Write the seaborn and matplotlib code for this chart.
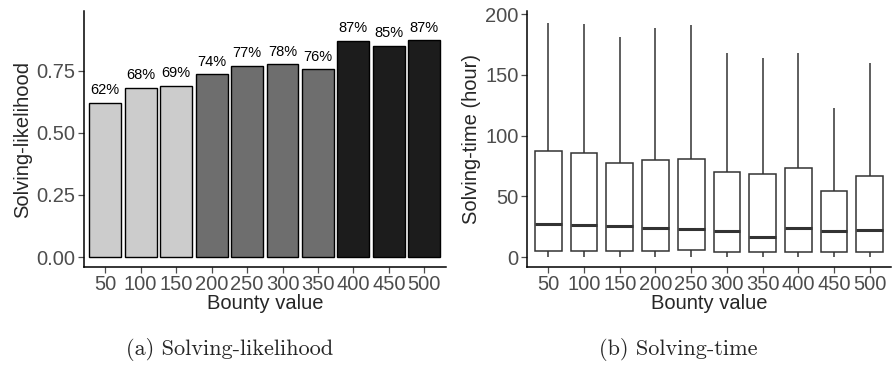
import matplotlib
matplotlib.use("Agg")
import matplotlib.pyplot as plt
import numpy as np
import pandas as pd
import seaborn as sns

# bounty categories
bounty = ["50", "100", "150", "200", "250", "300", "350", "400", "450", "500"]
tier = ["low"] * 3 + ["mid"] * 4 + ["high"] * 3
likelihood = [0.62, 0.68, 0.69, 0.735, 0.77, 0.775, 0.755, 0.87, 0.85, 0.872]
likelihood_labels = ["62%", "68%", "69%", "74%", "77%", "78%", "76%", "87%", "85%", "87%"]

# solving-time five-number summaries (hours)
time_min = [0.3, 0.3, 0.3, 0.3, 0.3, 0.3, 0.3, 0.3, 0.3, 0.3]
time_q1 = [5.2, 5.0, 5.0, 5.0, 5.5, 4.5, 4.0, 4.0, 4.0, 4.5]
time_med = [27.0, 26.0, 25.7, 24.1, 23.3, 21.6, 16.5, 24.0, 21.4, 22.2]
time_q3 = [87.5, 86.0, 77.4, 79.6, 80.7, 70.2, 68.0, 73.0, 54.3, 66.4]
time_max = [193.0, 192.0, 181.0, 188.7, 190.7, 168.0, 163.8, 168.0, 122.3, 159.7]

tier_colors = {"low": "#CCCCCC", "mid": "#6E6E6E", "high": "#1C1C1C"}

sns.set_theme(style="ticks")
plt.rcParams["font.family"] = ["Liberation Sans", "DejaVu Sans"]

df_like = pd.DataFrame({"bounty": bounty, "tier": tier, "likelihood": likelihood})

rows = []
for b, lo, q1, md, q3, hi in zip(bounty, time_min, time_q1, time_med, time_q3, time_max):
    for v in (lo, q1, md, q3, hi):
        rows.append({"bounty": b, "hours": v})
df_time = pd.DataFrame(rows)

fig = plt.figure(figsize=(8.93, 3.67), dpi=100)
ax1 = fig.add_axes([0.094, 0.2725, 0.405, 0.6975])
ax2 = fig.add_axes([0.590, 0.2725, 0.408, 0.6975])

tick_gray = "#4D4D4D"

# (a) likelihood bars
sns.barplot(data=df_like, x="bounty", y="likelihood", hue="tier", order=bounty,
            palette=tier_colors, dodge=False, width=0.9, edgecolor="black",
            linewidth=1.0, legend=False, ax=ax1)
bars = [p for p in ax1.patches]
bars.sort(key=lambda p: p.get_x())
for p, lab in zip(bars, likelihood_labels):
    ax1.annotate(lab, (p.get_x() + p.get_width() / 2, p.get_height()),
                 xytext=(0, 4), textcoords="offset points",
                 ha="center", va="bottom", fontsize=10.5, color="black")
ax1.set_xlim(-0.6, 9.6)
ax1.set_ylim(-0.04, 0.99)
ax1.set_yticks([0.0, 0.25, 0.5, 0.75])
ax1.set_yticklabels(["0.00", "0.25", "0.50", "0.75"])
ax1.set_ylabel("Solving-likelihood", fontsize=14.5, labelpad=3)

# (b) time boxes
sns.boxplot(data=df_time, x="bounty", y="hours", order=bounty, whis=(0, 100),
            color="white", linecolor="#333333", linewidth=1.1, width=0.75,
            fliersize=0, capprops={"linewidth": 0},
            medianprops={"linewidth": 2.2, "color": "#333333"}, ax=ax2)
ax2.set_xlim(-0.6, 9.6)
ax2.set_ylim(-8.2, 202.5)
ax2.set_yticks([0, 50, 100, 150, 200])
ax2.set_ylabel("Solving-time (hour)", fontsize=14.5, labelpad=3)

for ax in (ax1, ax2):
    ax.set_xlabel("Bounty value", fontsize=14.5, labelpad=0)
    for s in ("top", "right"):
        ax.spines[s].set_visible(False)
    for s in ("left", "bottom"):
        ax.spines[s].set_color("black")
        ax.spines[s].set_linewidth(1.1)
    ax.tick_params(axis="both", labelsize=14.5, colors=tick_gray, labelcolor=tick_gray,
                   length=4, width=0.9, direction="out", pad=2)
    ax.tick_params(top=False, right=False)
    ax.set_facecolor("white")
    ax.grid(False)

fig.patch.set_facecolor("white")

fig.text(0.257, 0.047, "(a) Solving-likelihood", family="cmr10", fontsize=16,
         ha="center", va="center")
fig.text(0.759, 0.047, "(b) Solving-time", family="cmr10", fontsize=16,
         ha="center", va="center")

fig.savefig("out.png", dpi=100, facecolor="white")
